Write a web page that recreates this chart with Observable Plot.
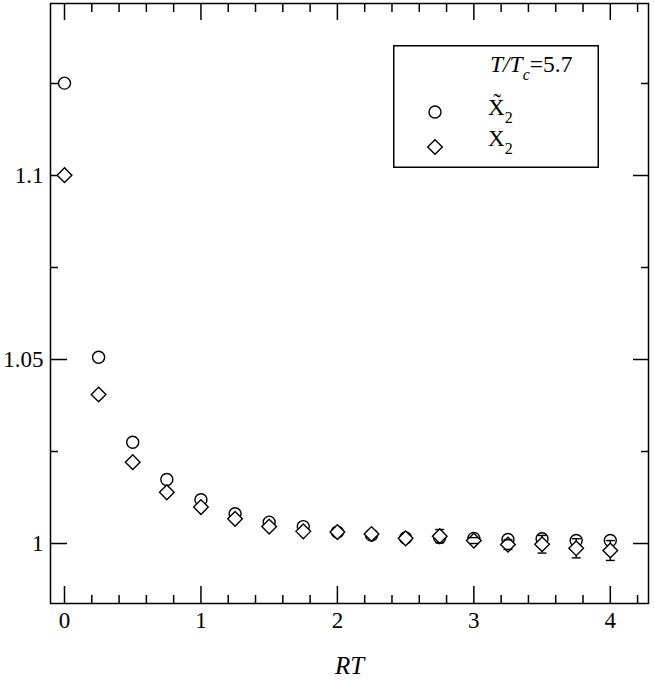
<!DOCTYPE html>
<html><head><meta charset="utf-8">
<script src="https://cdn.jsdelivr.net/npm/d3@7"></script>
<script src="https://cdn.jsdelivr.net/npm/@observablehq/plot@0.6"></script>
<style>
body{margin:0;background:#fff;}
#chart{position:relative;width:654px;height:681px;}
#legend{position:absolute;left:393px;top:45px;}
</style>
</head><body><div id="chart"></div>
<script>
// ---- data ----
const rtValues      = [0, 0.25, 0.5, 0.75, 1, 1.25, 1.5, 1.75, 2, 2.25, 2.5, 2.75, 3, 3.25, 3.5, 3.75, 4];
const x2TildeValues = [1.1251, 1.0506, 1.0275, 1.0174, 1.0119, 1.0081, 1.0058, 1.0046, 1.0031, 1.0023, 1.0015, 1.0016, 1.0014, 1.0011, 1.0013, 1.0008, 1.0008];
const x2Values      = [1.1001, 1.0405, 1.0221, 1.0139, 1.0099, 1.0067, 1.0046, 1.0033, 1.0031, 1.0026, 1.0014, 1.0020, 1.0008, 0.9997, 0.9998, 0.9987, 0.9981];
const x2Errors      = [0, 0, 0, 0, 0, 0, 0, 0, 0, 0, 0, 0.0018, 0.0008, 0.0013, 0.0024, 0.0026, 0.0027];
const xMajorTicks = [0, 1, 2, 3, 4];
const xMinorTicks = [0.2, 0.4, 0.6, 0.8, 1.2, 1.4, 1.6, 1.8, 2.2, 2.4, 2.6, 2.8, 3.2, 3.4, 3.6, 3.8, 4.2];
const yMajorTicks = [1, 1.05, 1.1];
const yMinorTicks = [1.025, 1.075, 1.125];
const xLabel = "RT";
const legendTitle = {a: "T/T", sub: "c", b: "=5.7"};
const seriesNames = ["X\u0303", "X"];

// ---- layout ----
const W = 654, H = 681, mL = 50, mR = 6, mT = 3, mB = 78;
const fw = W - mL - mR, fh = H - mT - mB;
const serif = "'Liberation Serif', 'Times New Roman', Times, serif";

const circles = rtValues.map((x, i) => ({x, y: x2TildeValues[i]}));
const diamonds = rtValues.map((x, i) => ({x, y: x2Values[i], e: x2Errors[i]}));
const bars = diamonds.filter(d => d.e > 0);
const caps = bars.flatMap(d => [{x: d.x, y: d.y - d.e}, {x: d.x, y: d.y + d.e}]);
const capSymbol = {draw(ctx, size) { const w = Math.sqrt(size / Math.PI); ctx.moveTo(-w, 0); ctx.lineTo(w, 0); }};

const plot = Plot.plot({
  width: W, height: H,
  marginLeft: mL, marginRight: mR, marginTop: mT, marginBottom: mB,
  style: {fontFamily: serif, background: "#fff", color: "#000"},
  x: {domain: [-0.1026, 4.28]},
  y: {domain: [0.9837, 1.14674]},
  marks: [
    Plot.frame({stroke: "#000", strokeWidth: 1.5}),
    // inward ticks
    Plot.tickX(xMajorTicks, {x: d => d, insetTop: fh - 17, stroke: "#000", strokeWidth: 1.5}),
    Plot.tickX(xMajorTicks, {x: d => d, insetBottom: fh - 17, stroke: "#000", strokeWidth: 1.5}),
    Plot.tickX(xMinorTicks, {x: d => d, insetTop: fh - 8, stroke: "#000", strokeWidth: 1.5}),
    Plot.tickX(xMinorTicks, {x: d => d, insetBottom: fh - 9, stroke: "#000", strokeWidth: 1.5}),
    Plot.tickY(yMajorTicks, {y: d => d, insetRight: fw - 17, stroke: "#000", strokeWidth: 1.5}),
    Plot.tickY(yMajorTicks, {y: d => d, insetLeft: fw - 15, stroke: "#000", strokeWidth: 1.5}),
    Plot.tickY(yMinorTicks, {y: d => d, insetRight: fw - 8, stroke: "#000", strokeWidth: 1.5}),
    Plot.tickY(yMinorTicks, {y: d => d, insetLeft: fw - 7, stroke: "#000", strokeWidth: 1.5}),
    Plot.axisX(xMajorTicks, {tickSize: 0, tickPadding: 8, fontSize: 23, tickFormat: d => String(d), label: null, fill: "#000"}),
    Plot.axisY(yMajorTicks, {tickSize: 0, tickPadding: 7, fontSize: 23, tickFormat: d => String(d), label: null, fill: "#000"}),
    Plot.text([xLabel], {frameAnchor: "bottom", dy: 70, fontSize: 25, fontStyle: "italic", fill: "#000"}),
    // data
    Plot.dot(circles, {x: "x", y: "y", symbol: "circle", r: 6, stroke: "#000", fill: "#fff", strokeWidth: 1.4}),
    Plot.ruleX(bars, {x: "x", y1: d => d.y - d.e, y2: d => d.y + d.e, stroke: "#000", strokeWidth: 1.4}),
    Plot.dot(diamonds, {x: "x", y: "y", symbol: "diamond2", r: 6.6, stroke: "#000", fill: "#fff", strokeWidth: 1.4}),
    Plot.dot(caps, {x: "x", y: "y", symbol: capSymbol, r: 4.5, stroke: "#000", fill: "none", strokeWidth: 1.4})
  ]
});
document.getElementById("chart").appendChild(plot);

// ---- legend ----
const lg = d3.select("#chart").append("svg").attr("id", "legend")
  .attr("width", 206).attr("height", 123)
  .style("font-family", serif);
lg.append("rect").attr("x", 0.75).attr("y", 0.75).attr("width", 204.5).attr("height", 121.5)
  .attr("fill", "#fff").attr("stroke", "#000").attr("stroke-width", 1.5);
const t = lg.append("text").attr("x", 97).attr("y", 27).attr("font-size", 23.5).attr("fill", "#000");
t.append("tspan").attr("font-style", "italic").text(legendTitle.a);
t.append("tspan").attr("font-style", "italic").attr("font-size", 16).attr("dy", 8).text(legendTitle.sub);
t.append("tspan").attr("font-size", 23.5).attr("dy", -8).text(legendTitle.b);
// circle entry
lg.append("circle").attr("cx", 42).attr("cy", 67).attr("r", 6).attr("fill", "#fff").attr("stroke", "#000").attr("stroke-width", 1.4);
const t1 = lg.append("text").attr("x", 95).attr("y", 70).attr("font-size", 23).attr("fill", "#000");
t1.append("tspan").text(seriesNames[0]);
t1.append("tspan").attr("font-size", 16).attr("dy", 8).text("2");
// diamond entry
lg.append("path").attr("transform", "translate(42,102)")
  .attr("d", d3.symbol(d3.symbolDiamond2, Math.PI * 6.6 * 6.6)())
  .attr("fill", "#fff").attr("stroke", "#000").attr("stroke-width", 1.4);
const t2 = lg.append("text").attr("x", 95).attr("y", 101).attr("font-size", 23).attr("fill", "#000");
t2.append("tspan").text(seriesNames[1]);
t2.append("tspan").attr("font-size", 16).attr("dy", 8).text("2");
</script></body></html>
